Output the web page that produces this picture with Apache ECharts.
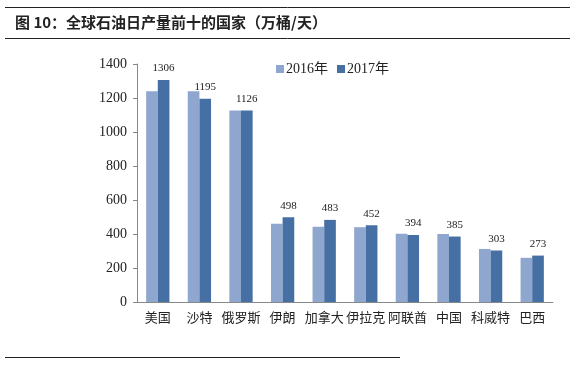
<!DOCTYPE html>
<html><head><meta charset="utf-8">
<script src="https://cdn.jsdelivr.net/npm/echarts@6/dist/echarts.min.js"></script>
<style>html,body{margin:0;padding:0;background:#fff;}#c{width:572px;height:381px;}</style>
</head><body><div id="c"></div>
<script>
var categories = ['美国','沙特','俄罗斯','伊朗','加拿大','伊拉克','阿联酋','中国','科威特','巴西'];
var values2016 = [1240, 1240, 1126, 460, 443, 440, 402, 400, 312, 260];
var values2017 = [1306, 1195, 1126, 498, 483, 452, 394, 385, 303, 273];
var yTicks = [0, 200, 400, 600, 800, 1000, 1200, 1400];

var serif = "'Liberation Serif', 'Noto Sans CJK SC', serif";
var chart = echarts.init(document.getElementById('c'));
chart.setOption({
  animation: false,
  backgroundColor: '#fff',
  graphic: [
    {type:'line', shape:{x1:5,y1:7.5,x2:570,y2:7.5}, style:{stroke:'#222',lineWidth:1}},
    {type:'line', shape:{x1:5,y1:38.5,x2:570,y2:38.5}, style:{stroke:'#222',lineWidth:1}},
    {type:'line', shape:{x1:5,y1:357.5,x2:400,y2:357.5}, style:{stroke:'#222',lineWidth:1}},
    {type:'text', left:15, top:15, style:{text:'图 10：全球石油日产量前十的国家（万桶/天）', font:"bold 15px 'Noto Sans CJK SC', sans-serif", fill:'#222'}}
  ],
  legend: {
    left: 271, top: 57, itemWidth: 8, itemHeight: 8, itemGap: 9,
    icon: 'rect',
    textStyle: {fontFamily: serif, fontSize: 14, color: '#222', padding:[0,0,0,-3]},
    data: ['2016年','2017年']
  },
  grid: {left: 137, right: 19, top: 64, bottom: 79},
  xAxis: {
    type: 'category', data: categories,
    axisLine: {lineStyle: {color: '#888'}},
    axisTick: {show: false},
    axisLabel: {fontFamily: serif, fontSize: 13, color: '#222', margin: 10, interval: 0}
  },
  yAxis: {
    type: 'value', min: 0, max: 1400, interval: 200,
    axisLine: {show: true, lineStyle: {color: '#888'}},
    axisTick: {show: true, length: 4, lineStyle: {color: '#888'}},
    splitLine: {show: false},
    axisLabel: {fontFamily: serif, fontSize: 14, color: '#222', margin: 10,
      formatter: function(v){ return yTicks.indexOf(v) >= 0 ? String(v) : ''; }}
  },
  series: [
    {name: '2016年', type: 'bar', data: values2016, barWidth: '28%', barGap: '0%',
     itemStyle: {color: '#8FA7CE'}},
    {name: '2017年', type: 'bar', data: values2017, barWidth: '28%', barGap: '0%',
     itemStyle: {color: '#4670A4'},
     label: {show: true, position: 'top', distance: 6, fontFamily: serif, fontSize: 11, color: '#222'}}
  ]
});
</script></body></html>
